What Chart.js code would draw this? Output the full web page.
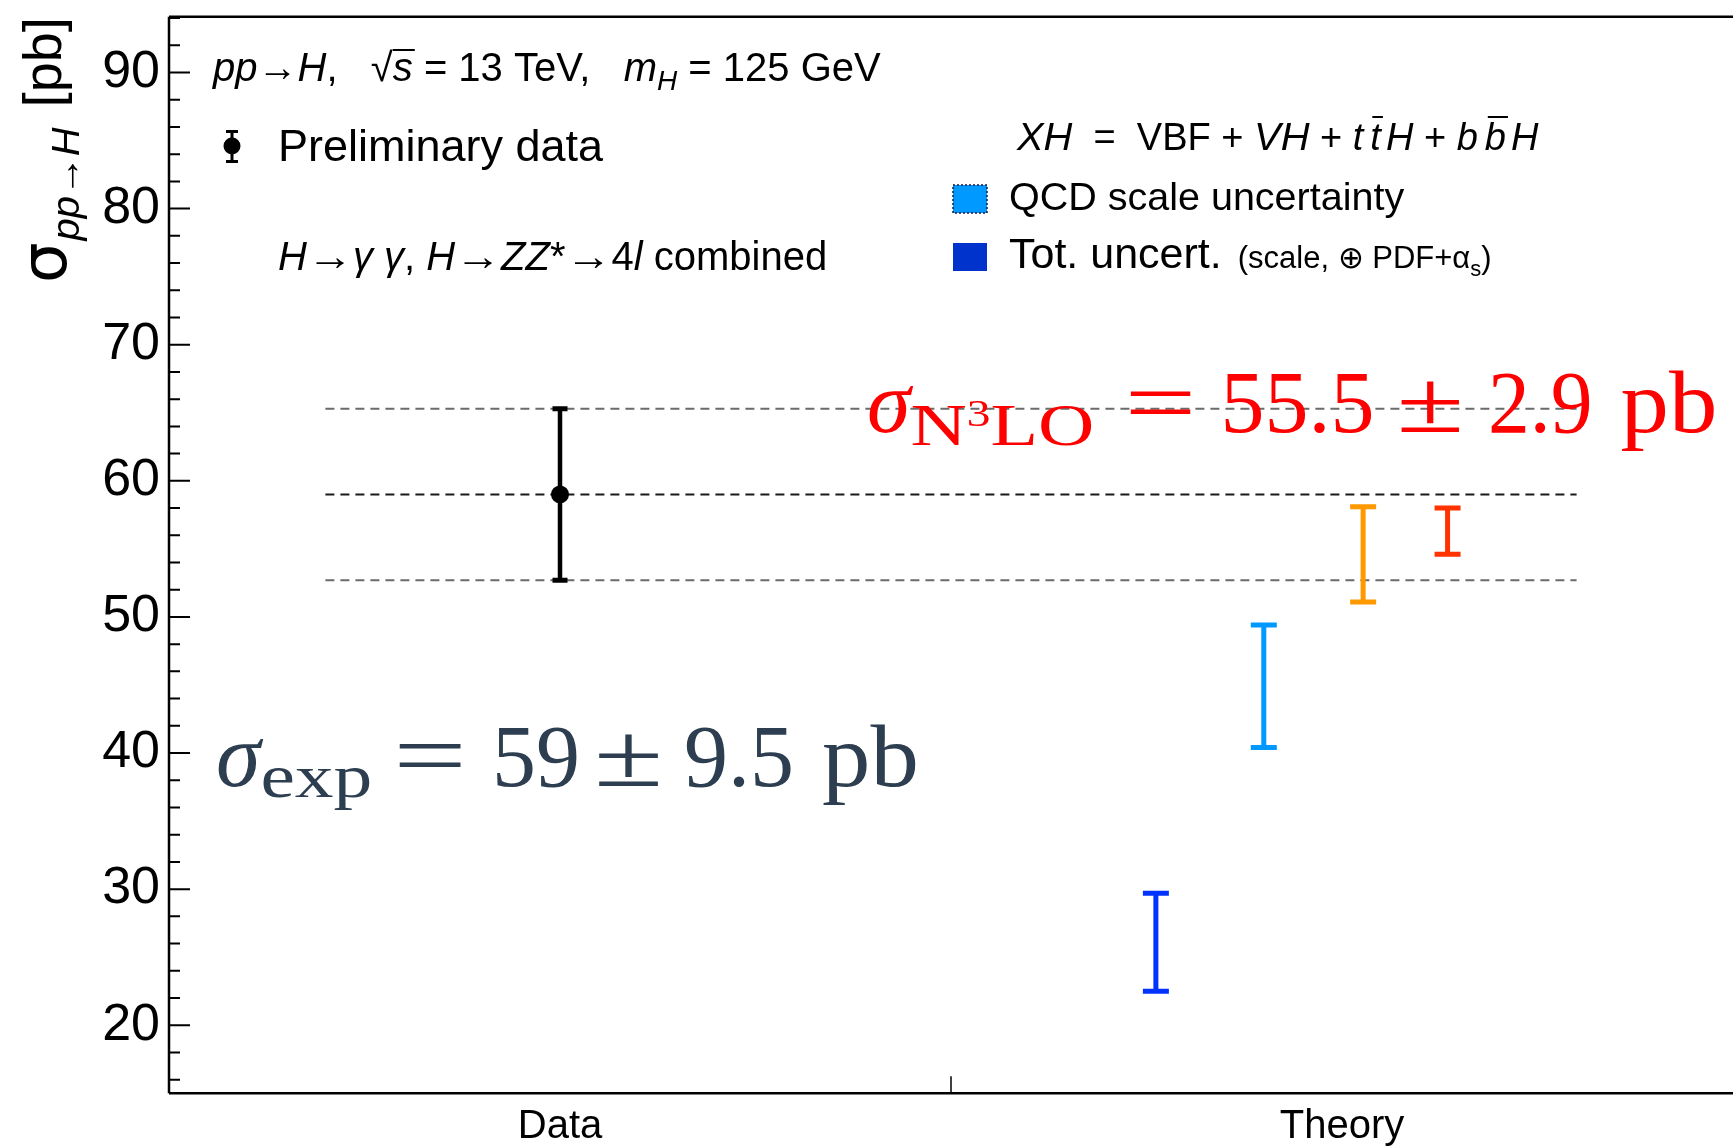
<!DOCTYPE html>
<html>
<head>
<meta charset="utf-8">
<title>pp → H cross section</title>
<script src="https://cdn.jsdelivr.net/npm/chart.js@4.4.1/dist/chart.umd.min.js"></script>
<style>
  html, body { margin: 0; padding: 0; background: #fff; overflow: hidden; }
  canvas { display: block; }
</style>
</head>
<body>
<canvas id="xsec" width="1733" height="1146"></canvas>
<script>
// ---------- values ----------
const categories = ["Data", "Theory"];
const categoryX = [0.5, 1.5];

const dataX = [0.5];
const dataY = [59.0];
const dataLow = [52.7];
const dataHigh = [65.3];

// theory error bars (no central marker)
const theoryX = [1.262, 1.400, 1.527, 1.635];
const theoryLow = [22.5, 40.4, 51.1, 54.6];
const theoryHigh = [29.7, 49.4, 58.1, 58.0];
const theoryColors = ["#0033ff", "#0099ff", "#ff9900", "#ff3300"];

// dashed band of the measurement
const bandX = [0.2, 1.8];
const bandY = [65.3, 59.0, 52.7];
const bandColors = ["#6b6b6b", "#1a1a1a", "#6b6b6b"];

const yTicks = [20, 30, 40, 50, 60, 70, 80, 90];
const yMin = 15, yMax = 94.1;

// ---------- fonts ----------
const SANS = '"Liberation Sans", Arial, Helvetica, sans-serif';
const SERIF = '"Liberation Serif", "Times New Roman", serif';
function f(size, family, style) { return (style ? style + " " : "") + size + "px " + family; }

// draw a row of text pieces, each with its own font / baseline shift / stretch
function drawRuns(ctx, x, y, list) {
  list.forEach(r => {
    ctx.font = r.font;
    x += r.gap || 0;
    const sx = r.sx || 1;
    const w = ctx.measureText(r.t).width * sx;
    const yy = y + (r.dy || 0);
    ctx.save();
    ctx.translate(x, yy);
    ctx.scale(sx, 1);
    ctx.fillText(r.t, 0, 0);
    ctx.restore();
    if (r.bar) ctx.fillRect(x + r.bar[0], yy - r.bar[1], w - r.bar[0] + (r.bar[2] || 0), 2);
    x += w;
  });
  return x;
}

// ---------- datasets ----------
const datasets = [];
bandY.forEach((v, i) => datasets.push({
  data: bandX.map(x => ({ x, y: v })),
  showLine: true, borderColor: bandColors[i], borderWidth: 2, borderDash: [9, 6],
  pointRadius: 0, order: 3
}));
theoryX.forEach((x, i) => datasets.push({
  data: [{ x, y: theoryLow[i] }, { x, y: theoryHigh[i] }],
  showLine: true, borderColor: theoryColors[i], borderWidth: 5,
  pointStyle: "line", pointRadius: 13, pointBorderWidth: 5, pointBorderColor: theoryColors[i],
  order: 1
}));
dataX.forEach((x, i) => datasets.push({
  data: [{ x, y: dataLow[i] }, { x, y: dataHigh[i] }],
  showLine: true, borderColor: "#000", borderWidth: 4.5,
  pointStyle: "line", pointRadius: 7.5, pointBorderWidth: 5, pointBorderColor: "#000",
  order: 1
}));
datasets.push({
  data: dataX.map((x, i) => ({ x, y: dataY[i] })),
  pointRadius: 9, pointBackgroundColor: "#000", pointBorderColor: "#000", pointBorderWidth: 0,
  order: 0
});

// ---------- frame with inward ticks (ROOT style) ----------
const framePlugin = {
  id: "frame",
  afterDraw(chart) {
    const { ctx, chartArea: a, scales } = chart;
    const y = scales.y, x = scales.x;
    ctx.save();
    ctx.strokeStyle = "#000";
    ctx.lineWidth = 2.5;
    ctx.beginPath();
    ctx.moveTo(a.left, a.top); ctx.lineTo(a.right + 5, a.top);
    ctx.moveTo(a.left, a.top); ctx.lineTo(a.left, a.bottom);
    ctx.moveTo(a.left, a.bottom); ctx.lineTo(a.right + 5, a.bottom);
    ctx.stroke();
    ctx.lineWidth = 2;
    ctx.beginPath();
    for (let v = 16; v <= yMax; v += 2) {
      const p = y.getPixelForValue(v);
      const len = v % 10 === 0 ? 21 : 11;
      ctx.moveTo(a.left, p); ctx.lineTo(a.left + len, p);
    }
    ctx.stroke();
    ctx.lineWidth = 1.5;
    ctx.beginPath();
    const px = x.getPixelForValue(1);
    ctx.moveTo(px, a.bottom); ctx.lineTo(px, a.bottom - 17);
    ctx.stroke();
    ctx.restore();
  }
};

// ---------- annotations ----------
const textPlugin = {
  id: "texts",
  afterDraw(chart) {
    const ctx = chart.ctx;
    ctx.save();
    ctx.fillStyle = "#000";
    ctx.textAlign = "left";
    ctx.textBaseline = "alphabetic";

    // y-axis title, reads bottom to top
    ctx.save();
    ctx.rotate(-Math.PI / 2);
    drawRuns(ctx, -283, 0, [
      { t: "σ", font: f(64, '"DejaVu Sans", sans-serif'), dy: 66 },
      { t: "pp→H", font: f(38, SANS, "italic"), dy: 79, gap: 2, sx: 1.05 },
      { t: "[pb]", font: f(54, SANS), dy: 61, gap: 20 }
    ]);
    ctx.restore();

    const it40 = f(40, SANS, "italic"), n40 = f(40, SANS);
    drawRuns(ctx, 213, 81, [
      { t: "pp", font: it40 }, { t: "→", font: n40 }, { t: "H", font: it40 },
      { t: ",   ", font: n40 }, { t: "√", font: n40 },
      { t: "s", font: it40, bar: [0, 32, 2] },
      { t: " = 13 TeV,   ", font: n40 },
      { t: "m", font: it40 }, { t: "H", font: f(28, SANS, "italic"), dy: 9 },
      { t: " = 125 GeV", font: n40 }
    ]);

    // data legend marker
    ctx.fillStyle = "#000";
    ctx.fillRect(230.5, 131, 3, 31);
    ctx.fillRect(226, 130, 12, 3);
    ctx.fillRect(226, 160, 12, 3);
    ctx.beginPath(); ctx.arc(232, 146, 8.5, 0, 2 * Math.PI); ctx.fill();
    ctx.font = f(45, SANS);
    ctx.fillText("Preliminary data", 278, 161);

    drawRuns(ctx, 278, 270, [
      { t: "H", font: it40 }, { t: "→", font: n40, sx: 1.15 }, { t: "γ γ", font: it40 },
      { t: ", ", font: n40 }, { t: "H", font: it40 }, { t: "→", font: n40, sx: 1.15 },
      { t: "ZZ", font: it40 }, { t: "*", font: n40 }, { t: "→", font: n40, sx: 1.15 },
      { t: "4", font: n40 }, { t: "l", font: it40 },
      { t: " combined", font: n40 }
    ]);

    const it38 = f(38, SANS, "italic"), n38 = f(38, SANS);
    drawRuns(ctx, 1017, 150, [
      { t: "XH", font: it38, sx: 1.05 }, { t: "  =  VBF + ", font: n38 }, { t: "VH", font: it38, sx: 1.05 },
      { t: " + ", font: n38 }, { t: "t", font: it38 }, { t: "t", font: it38, gap: 7, bar: [2, 34, 2] },
      { t: "H", font: it38, gap: 5 }, { t: " + ", font: n38 }, { t: "b", font: it38 },
      { t: "b", font: it38, gap: 7, bar: [3, 34, 2] }, { t: "H", font: it38, gap: 5 }
    ]);

    // theory legend boxes
    ctx.fillStyle = "#0099ff";
    ctx.fillRect(953, 185, 34, 28);
    ctx.strokeStyle = "#1a1a40";
    ctx.lineWidth = 1.5;
    ctx.setLineDash([2, 2]);
    ctx.strokeRect(953, 185, 34, 28);
    ctx.setLineDash([]);
    ctx.fillStyle = "#0033cc";
    ctx.fillRect(953, 243, 34, 28);

    ctx.fillStyle = "#000";
    ctx.font = f(39.5, SANS);
    ctx.fillText("QCD scale uncertainty", 1009, 210);
    drawRuns(ctx, 1009, 268, [
      { t: "Tot. uncert.", font: f(43, SANS) },
      { t: "(scale, ⊕ PDF+α", font: f(31, SANS), gap: 16 },
      { t: "s", font: f(22, SANS), dy: 8 },
      { t: ")", font: f(31, SANS) }
    ]);

    // big formulas (LaTeX look: wide script-size subscripts, wide relation signs)
    ctx.fillStyle = "#ff0000";
    drawRuns(ctx, 867, 432, [
      { t: "σ", font: f(88, SERIF, "italic") },
      { t: "N", font: f(60, SERIF), dy: 13, sx: 1.3 },
      { t: "3", font: f(38, SERIF), dy: -6, sx: 1.25 },
      { t: "LO", font: f(60, SERIF), dy: 13, sx: 1.3 },
      { t: "=", font: f(88, SERIF), gap: 30, sx: 1.45 },
      { t: "55.5", font: f(88, SERIF), gap: 24 },
      { t: "±", font: f(88, SERIF), gap: 22, sx: 1.4 },
      { t: "2.9", font: f(88, SERIF), gap: 24, sx: 0.95 },
      { t: "pb", font: f(88, SERIF), gap: 28, sx: 1.1 }
    ]);

    ctx.fillStyle = "#2c3e50";
    drawRuns(ctx, 216, 786, [
      { t: "σ", font: f(90, SERIF, "italic") },
      { t: "exp", font: f(62, SERIF), dy: 11, sx: 1.25 },
      { t: "=", font: f(90, SERIF), gap: 21, sx: 1.45 },
      { t: "59", font: f(88, SERIF), gap: 25 },
      { t: "±", font: f(90, SERIF), gap: 14, sx: 1.4 },
      { t: "9.5", font: f(88, SERIF), gap: 21 },
      { t: "pb", font: f(88, SERIF), gap: 28, sx: 1.1 }
    ]);
    ctx.restore();
  }
};

Chart.defaults.font.family = SANS;
Chart.defaults.color = "#000";

new Chart(document.getElementById("xsec"), {
  type: "scatter",
  data: { datasets },
  options: {
    responsive: false,
    animation: false,
    layout: { autoPadding: false, padding: { top: 16.7, right: 0, left: 0, bottom: 0 } },
    plugins: { legend: { display: false }, tooltip: { enabled: false } },
    scales: {
      x: {
        type: "linear", min: 0, max: 2,
        grid: { display: false, drawTicks: false }, border: { display: false },
        ticks: {
          font: { size: 40 }, color: "#000", padding: 10, maxRotation: 0, autoSkip: false,
          callback: v => categories[categoryX.indexOf(v)] || ""
        },
        afterBuildTicks: s => { s.ticks = categoryX.map(v => ({ value: v })); },
        afterFit: s => { s.height = 52.7; s.paddingLeft = 0; s.paddingRight = 0; }
      },
      y: {
        type: "linear", min: yMin, max: yMax,
        grid: { display: false, drawTicks: false }, border: { display: false },
        ticks: { font: { size: 52 }, color: "#000", padding: 9 },
        afterBuildTicks: s => { s.ticks = yTicks.map(v => ({ value: v })); },
        afterFit: s => { s.width = 169; s.paddingTop = 0; s.paddingBottom = 0; }
      }
    }
  },
  plugins: [framePlugin, textPlugin]
});
</script>
</body>
</html>
